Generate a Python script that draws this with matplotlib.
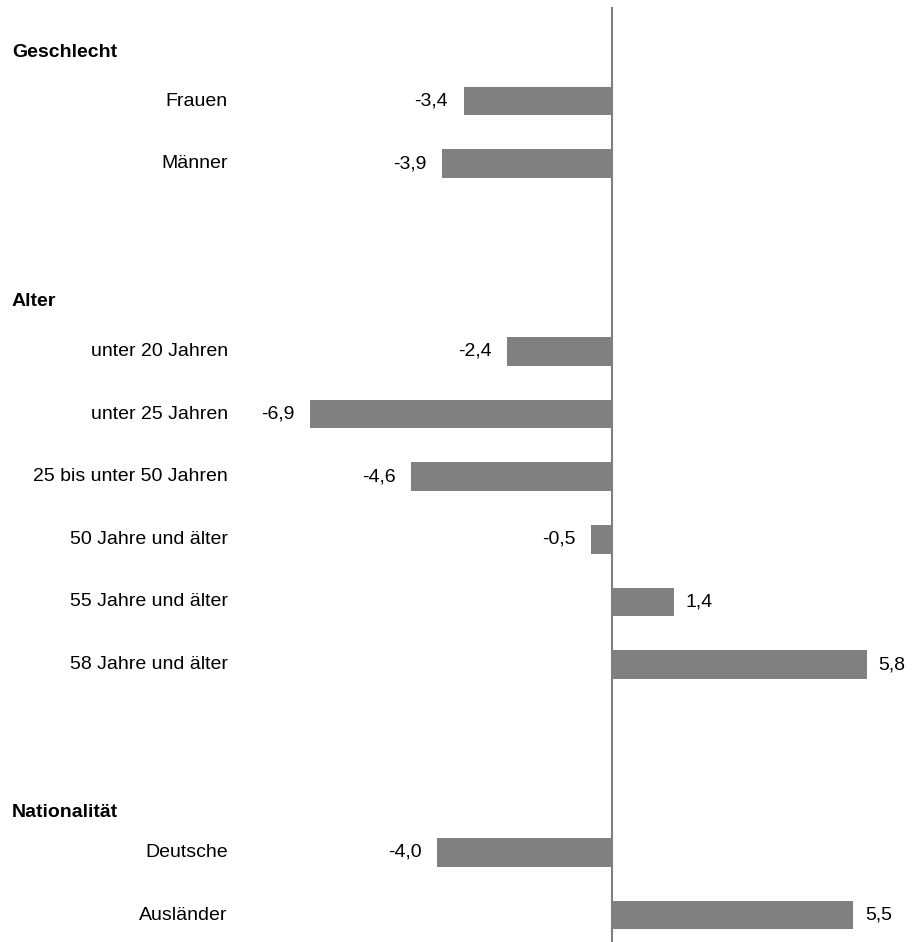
import matplotlib.pyplot as plt
import matplotlib.transforms as mtransforms

plt.rcParams['font.family'] = ['Liberation Sans', 'DejaVu Sans']

# data
groups = ['Geschlecht', 'Alter', 'Nationalität']
categories = ['Frauen', 'Männer',
              'unter 20 Jahren', 'unter 25 Jahren', '25 bis unter 50 Jahren',
              '50 Jahre und älter', '55 Jahre und älter', '58 Jahre und älter',
              'Deutsche', 'Ausländer']
values = [-3.4, -3.9, -2.4, -6.9, -4.6, -0.5, 1.4, 5.8, -4.0, 5.5]

# layout: row slots of each category and header
slots = [0, 1, 4, 5, 6, 7, 8, 9, 12, 13]
header_slots = [-0.77, 3.2, 11.36]

fig = plt.figure(figsize=(9.15, 9.42), dpi=100)
ax = fig.add_axes([0, 0, 1, 1])
ax.set_xlim(-13.98, 6.906)
ax.set_ylim(13.43, -1.613)
ax.axis('off')

ax.barh(slots, values, height=0.455, color='#808080')
ax.vlines(0, -1.5, 13.43, color='#808080', linewidth=1.5)

trans = mtransforms.blended_transform_factory(ax.transAxes, ax.transData)
for s, cat, v in zip(slots, categories, values):
    ax.text(0.249, s, cat, transform=trans, ha='right', va='center', fontsize=14)
    lab = ('%.1f' % v).replace('.', ',')
    if v < 0:
        ax.annotate(lab, (v, s), xytext=(-11, 0), textcoords='offset points',
                    ha='right', va='center', fontsize=14)
    else:
        ax.annotate(lab, (v, s), xytext=(8.5, 0), textcoords='offset points',
                    ha='left', va='center', fontsize=14)

for s, g in zip(header_slots, groups):
    ax.text(0.0131, s, g, transform=trans, ha='left', va='center',
            fontsize=14, fontweight='bold')

plt.savefig('out.png', dpi=100)
